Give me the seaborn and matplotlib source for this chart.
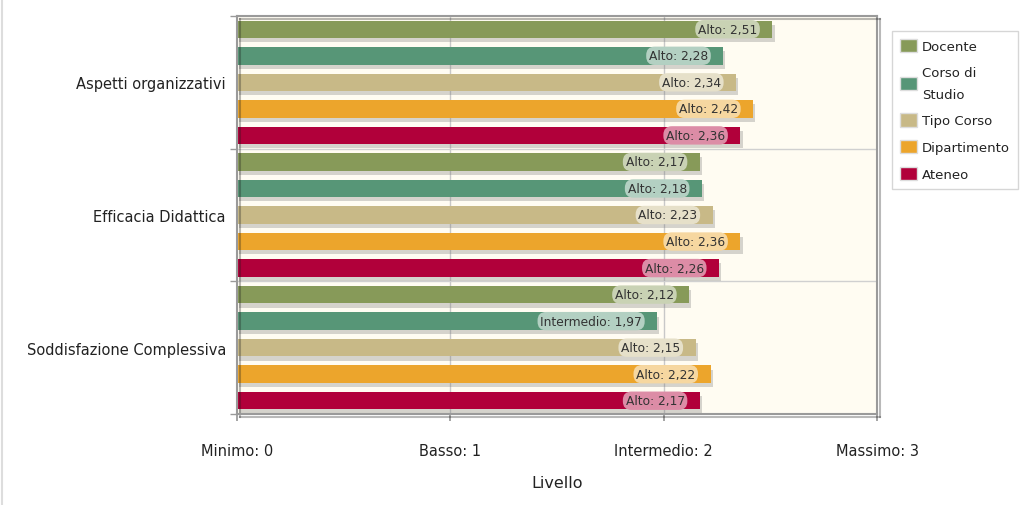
import numpy as np
import pandas as pd
import matplotlib.pyplot as plt
import matplotlib.patheffects as pe
from matplotlib.patches import Patch
from matplotlib.lines import Line2D
from matplotlib.colors import to_rgb
import seaborn as sns

# data
categorie = ["Aspetti organizzativi", "Efficacia Didattica", "Soddisfazione Complessiva"]
serie = ["Docente", "Corso di Studio", "Tipo Corso", "Dipartimento", "Ateneo"]
serie_legenda = ["Docente", "Corso di\nStudio", "Tipo Corso", "Dipartimento", "Ateneo"]
valori = {
    "Docente":         [2.51, 2.17, 2.12],
    "Corso di Studio": [2.28, 2.18, 1.97],
    "Tipo Corso":      [2.34, 2.23, 2.15],
    "Dipartimento":    [2.42, 2.36, 2.22],
    "Ateneo":          [2.36, 2.26, 2.17],
}
livelli = ["Minimo", "Basso", "Intermedio", "Massimo"]
livelli_val = [0, 1, 2, 3]
colori = ["#879a59", "#579677", "#c8b987", "#eca52c", "#b1003a"]

rows = []
for s in serie:
    for c, v in zip(categorie, valori[s]):
        rows.append({"Categoria": c, "Serie": s, "Valore": v})
df = pd.DataFrame(rows)


def nome_livello(v):
    # level name shown on the bars
    return "Alto" if v >= 2 else "Intermedio"


sns.set_theme(style="white")
plt.rcParams["font.family"] = ["DejaVu Sans"]

fig = plt.figure(figsize=(10.24, 5.06), dpi=100)
ax = fig.add_axes([237 / 1024, 1 - 415 / 506, 640 / 1024, 398 / 506])
ax.set_facecolor("#fffcf2")

pal = dict(zip(serie, colori))
sns.barplot(df, x="Valore", y="Categoria", hue="Serie", hue_order=serie,
            order=categorie, palette=pal, width=1.0, gap=0.34, orient="h",
            saturation=1, legend=False, ax=ax, errorbar=None)

shadow = [pe.SimplePatchShadow(offset=(1.5, -3), shadow_rgbFace="#777777", alpha=0.3), pe.Normal()]
for bar in ax.patches:
    bar.set_linewidth(0)
    bar.set_path_effects(shadow)

# value labels
for cont, col in zip(ax.containers, colori):
    light = 0.45 * np.array(to_rgb(col)) + 0.55
    for bar in cont:
        v = bar.get_width()
        y = bar.get_y() + bar.get_height() / 2
        txt = f"{nome_livello(v)}: {v:.2f}".replace(".", ",")
        ax.annotate(txt, (v, y), xytext=(-11, 0), textcoords="offset points",
                    ha="right", va="center", fontsize=8.8, color="#333333",
                    bbox=dict(boxstyle="round,pad=0.22,rounding_size=0.7",
                              fc=light, ec="none"))

ax.set_xlim(0, 3)
ax.set_ylim(2.5, -0.5)
ax.set_xticks(livelli_val)
ax.set_xticklabels([f"{l}: {v}" for l, v in zip(livelli, livelli_val)],
                   fontsize=10.5, color="#222222")
ax.tick_params(axis="x", length=5, color="#999999", pad=16, bottom=True)
ax.set_yticks([0, 1, 2])
ax.set_yticklabels(categorie, fontsize=10.5, color="#222222")
ax.set_yticks([-0.5, 0.5, 1.5, 2.5], minor=True)
ax.tick_params(axis="y", which="major", length=0, pad=8)
ax.tick_params(axis="y", which="minor", length=5, color="#999999", left=True)

for x in [1, 2]:
    ax.axvline(x, color="#c8c8c8", lw=1, zorder=0)
for y in [0.5, 1.5]:
    ax.axhline(y, color="#d0d0d0", lw=1, zorder=0)

for sp in ax.spines.values():
    sp.set_color("#9a9a9a")
    sp.set_linewidth(1.5)
    sp.set_path_effects([pe.SimpleLineShadow(offset=(2, -2), alpha=0.3), pe.Normal()])

ax.set_xlabel("Livello", fontsize=11.5, color="#222222", labelpad=12)
ax.set_ylabel("")

handles = [Patch(facecolor=c, edgecolor="#dddddd") for c in colori]
leg = fig.legend(handles, serie_legenda, loc="upper left",
                 bbox_to_anchor=(892 / 1024, 1 - 32 / 506), frameon=True,
                 fontsize=9.5, labelspacing=0.95, handlelength=1.3,
                 handleheight=1.2, handletextpad=0.35, borderpad=0.6,
                 borderaxespad=0, fancybox=False, edgecolor="#cccccc")
leg.get_frame().set_linewidth(1)
for t in leg.get_texts():
    t.set_color("#222222")
    t.set_linespacing(1.9)

fig.add_artist(Line2D([2 / 1024, 2 / 1024], [0, 1], color="#dddddd", lw=1.5))

fig.savefig("out.png", dpi=100)
